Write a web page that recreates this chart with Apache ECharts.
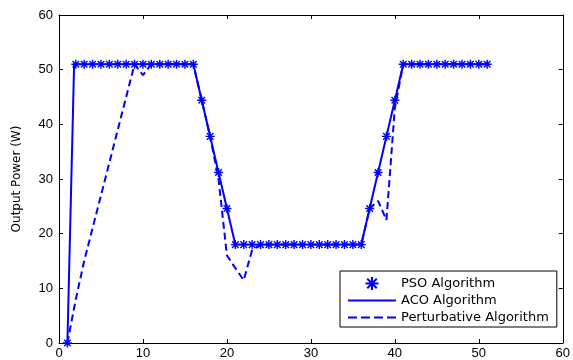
<!DOCTYPE html>
<html>
<head>
<meta charset="utf-8">
<script src="https://cdn.jsdelivr.net/npm/echarts@6/dist/echarts.min.js"></script>
<style>
  html, body { margin: 0; padding: 0; background: #fff; }
  #chart { width: 573px; height: 360px; }
</style>
</head>
<body>
<div id="chart"></div>
<script>
// PSO samples (one per iteration)
const psoX = [1, 2, 3, 4, 5, 6, 7, 8, 9, 10, 11, 12, 13, 14, 15, 16, 17, 18, 19, 20,
  21, 22, 23, 24, 25, 26, 27, 28, 29, 30, 31, 32, 33, 34, 35, 36, 37, 38, 39, 40,
  41, 42, 43, 44, 45, 46, 47, 48, 49, 50, 51];
const psoY = [0, 51, 51, 51, 51, 51, 51, 51, 51, 51, 51, 51, 51, 51, 51, 51, 44.4, 37.8, 31.2, 24.6,
  18, 18, 18, 18, 18, 18, 18, 18, 18, 18, 18, 18, 18, 18, 18, 18, 24.6, 31.2, 37.8, 44.4,
  51, 51, 51, 51, 51, 51, 51, 51, 51, 51, 51];

const acoX = [1, 1.8, 16, 21, 36, 41, 51];
const acoY = [0, 51, 51, 18, 18, 51, 51];

const pertX = [1, 2, 3, 9, 10, 11, 16, 17, 18, 19, 20, 21, 22, 23, 24, 36, 37, 38, 39, 40, 41, 51];
const pertY = [0, 8, 15, 51, 49, 51, 51, 44.4, 37.8, 30, 16, 13.7, 11.5, 17, 18, 18, 24.6, 26, 22.5, 43, 51, 51];

const seriesNames = ['PSO Algorithm', 'ACO Algorithm', 'Perturbative Algorithm'];
const yTitle = 'Output Power (W)';

const pairs = (xs, ys) => xs.map((x, i) => [x, ys[i]]);

const starPath = 'path://M4.2 0H5.8V10H4.2Z M0 4.2H10V5.8H0Z M0.8 1.9L1.9 0.8L9.2 8.1L8.1 9.2Z M8.1 0.8L9.2 1.9L1.9 9.2L0.8 8.1Z';
// legend icons: plain line and dashed line
const solidIcon = 'path://M0 0H48V2H0Z';
const dashIcon = 'path://M0 0H9V2H0Z M13 0H22V2H13Z M26 0H35V2H26Z M39 0H48V2H39Z';

const font = 'Liberation Sans, Arial, sans-serif';
const blue = '#0000ff';

const chart = echarts.init(document.getElementById('chart'), null, { renderer: 'canvas' });

const tickStyle = { show: true, inside: true, length: 4, lineStyle: { color: '#000', width: 1 } };
const lineStyleAxis = { show: true, onZero: false, lineStyle: { color: '#000', width: 1 } };

const option = {
  backgroundColor: '#fff',
  animation: false,
  grid: { left: 59, right: 2, top: 15, bottom: 15, containLabel: false },
  xAxis: [
    {
      type: 'value', min: 0, max: 60, interval: 10, position: 'bottom',
      axisLine: lineStyleAxis, axisTick: tickStyle,
      axisLabel: { color: '#000', fontSize: 13, fontFamily: font, margin: 4 },
      splitLine: { show: false },
    },
    {
      type: 'value', min: 0, max: 60, interval: 10, position: 'top',
      axisLine: lineStyleAxis, axisTick: tickStyle,
      axisLabel: { show: false }, splitLine: { show: false },
    },
  ],
  yAxis: [
    {
      type: 'value', min: 0, max: 60, interval: 10, position: 'left',
      name: yTitle, nameLocation: 'middle', nameGap: 36,
      nameTextStyle: { color: '#000', fontSize: 12, fontFamily: 'DejaVu Sans, sans-serif' },
      axisLine: lineStyleAxis, axisTick: tickStyle,
      axisLabel: { color: '#000', fontSize: 13, fontFamily: font, margin: 6 },
      splitLine: { show: false },
    },
    {
      type: 'value', min: 0, max: 60, interval: 10, position: 'right',
      axisLine: lineStyleAxis, axisTick: tickStyle,
      axisLabel: { show: false }, splitLine: { show: false },
    },
  ],
  legend: {
    orient: 'vertical',
    left: 340, top: 271,
    padding: [6, 8, 3, 8],
    itemWidth: 48, itemHeight: 13, itemGap: 4,
    borderColor: '#000', borderWidth: 1, backgroundColor: '#fff',
    textStyle: { color: '#000', fontSize: 13, fontFamily: 'DejaVu Sans, sans-serif' },
    data: [
      { name: seriesNames[0] },
      { name: seriesNames[1], icon: solidIcon },
      { name: seriesNames[2], icon: dashIcon },
    ],
  },
  series: [
    {
      name: seriesNames[2], type: 'line', data: pairs(pertX, pertY),
      symbol: 'none',
      lineStyle: { color: blue, width: 2, type: [7, 4] },
      itemStyle: { color: blue }, z: 2,
    },
    {
      name: seriesNames[1], type: 'line', data: pairs(acoX, acoY),
      symbol: 'none',
      lineStyle: { color: blue, width: 2 },
      itemStyle: { color: blue }, z: 3,
    },
    {
      name: seriesNames[0], type: 'scatter', data: pairs(psoX, psoY),
      symbol: starPath, symbolSize: 9,
      itemStyle: { color: blue, opacity: 1 }, z: 4,
    },
  ],
};

chart.setOption(option);
</script>
</body>
</html>
